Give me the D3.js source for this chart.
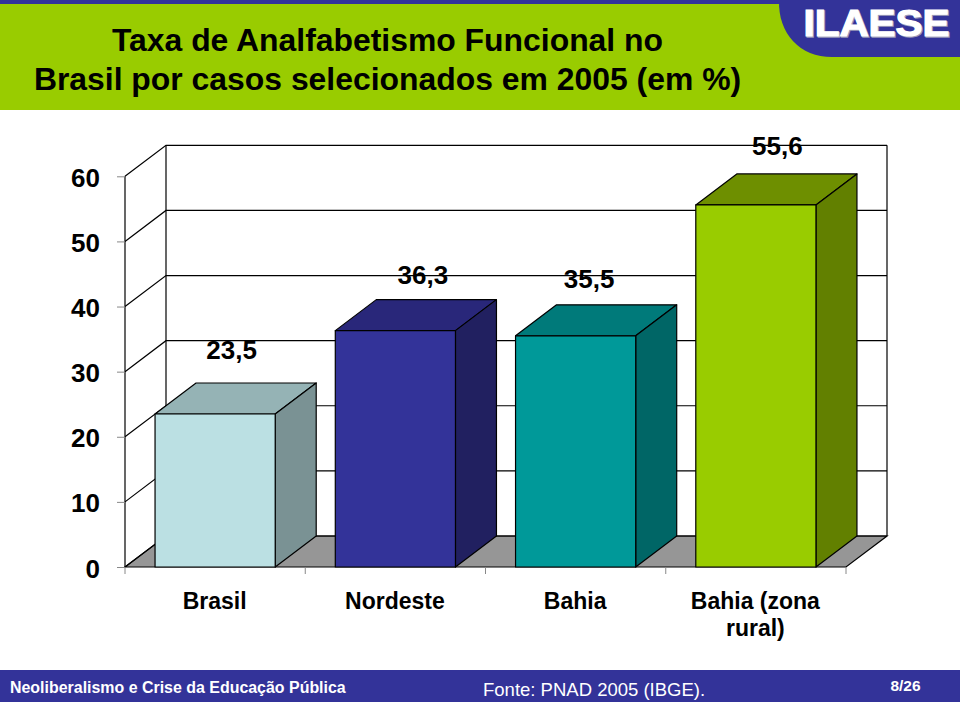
<!DOCTYPE html>
<html><head><meta charset="utf-8">
<style>html,body{margin:0;padding:0;background:#fff}svg{display:block}
text{font-family:"Liberation Sans",Arial,sans-serif}</style>
<script src="https://cdnjs.cloudflare.com/ajax/libs/d3/7.8.5/d3.min.js"></script></head>
<body><svg id="c" width="960" height="702"></svg>
<script>
const titleLines = ["Taxa de Analfabetismo Funcional no","Brasil por casos selecionados em 2005 (em %)"];
const categories = ["Brasil","Nordeste","Bahia","Bahia (zona rural)"];
const values = [23.5,36.3,35.5,55.6];
const yTicks = [0,10,20,30,40,50,60];
const frontColors = ["#bbe0e3","#333399","#009999","#99cc00"];
const topColors = ["#95b3b5","#29277a","#007a7a","#6e8f00"];
const sideColors = ["#7a9294","#212060","#006666","#628000"];
const brand = "ILAESE";
const footerLeft = "Neoliberalismo e Crise da Educação Pública";
const footerSource = "Fonte: PNAD 2005 (IBGE).";
const pageLabel = "8/26";

const svg = d3.select("#c");
const BLUE = "#333399", GREEN = "#99cc00";
const left=125, right=846, bottom=567, dx=41, dy=-31;
const x = d3.scaleBand().domain(categories).range([left,right]).paddingInner(1/3).paddingOuter(1/6);
const y = d3.scaleLinear().domain([0,60]).range([bottom,176.3]);
const comma = d3.formatLocale({decimal:",",thousands:".",grouping:[3],currency:["",""]}).format(".1f");
const poly = pts => pts.map(p=>p.join(",")).join(" ");

// header
svg.append("rect").attr("x",0).attr("y",0).attr("width",960).attr("height",110).attr("fill",GREEN);
svg.append("rect").attr("x",0).attr("y",0).attr("width",960).attr("height",4).attr("fill",BLUE);
svg.append("path").attr("fill",BLUE).attr("d","M779,0 C778,34 800,57 832,57 L960,57 L960,0 Z");
svg.selectAll("text.title").data(titleLines).join("text").attr("class","title")
  .attr("x",387.5).attr("y",(d,i)=>51+i*39).attr("text-anchor","middle")
  .attr("font-weight","bold").attr("font-size",31.9).attr("fill","#000").text(d=>d);
svg.append("text").attr("x",876.5).attr("y",36).attr("text-anchor","middle").attr("font-weight","bold")
  .attr("font-size",37).attr("fill","#9a9ab8").attr("stroke","#9a9ab8").attr("stroke-width",1.4)
  .attr("transform","translate(1,1)").attr("textLength",146).attr("lengthAdjust","spacingAndGlyphs").text(brand);
svg.append("text").attr("x",876.5).attr("y",36).attr("text-anchor","middle").attr("font-weight","bold")
  .attr("font-size",37).attr("fill","#fff").attr("stroke","#fff").attr("stroke-width",1.2)
  .attr("textLength",146).attr("lengthAdjust","spacingAndGlyphs").text(brand);

// walls & floor
const g = svg.append("g");
g.append("polygon").attr("points",poly([[left,bottom],[left+dx,bottom+dy],[right+dx,bottom+dy],[right,bottom]]))
  .attr("fill","#969696").attr("stroke","#000").attr("stroke-width",1.2);
const grid = g.append("g").attr("fill","none").attr("stroke","#000").attr("stroke-width",1.2);
grid.selectAll("polyline").data(yTicks).join("polyline")
  .attr("points",d=>poly([[left,y(d)],[left+dx,y(d)+dy],[right+dx,y(d)+dy]]));
grid.append("line").attr("x1",left).attr("x2",left).attr("y1",y(60)).attr("y2",bottom);
grid.append("line").attr("x1",left+dx).attr("x2",left+dx).attr("y1",y(60)+dy).attr("y2",bottom+dy);
grid.append("line").attr("x1",right+dx).attr("x2",right+dx).attr("y1",y(60)+dy).attr("y2",bottom+dy);

// axes
const yAxis = d3.axisLeft(y).tickValues(yTicks).tickSize(8).tickPadding(17).tickFormat(d3.format("d"));
const gy = svg.append("g").attr("transform",`translate(${left},0)`).call(yAxis);
gy.select(".domain").remove();
gy.selectAll("line").attr("stroke","#888");
gy.selectAll("text").attr("font-size",26).attr("font-weight","bold").attr("fill","#000")
  .attr("dy",null).attr("y",10);

// bars
const bars = svg.append("g").selectAll("g").data(categories).join("g")
  .attr("stroke","#000").attr("stroke-width",1.2).attr("stroke-linejoin","round");
const bw = x.bandwidth();
bars.append("polygon").attr("fill",(d,i)=>topColors[i])
  .attr("points",(d,i)=>{const a=x(d),t=y(values[i]);return poly([[a,t],[a+dx,t+dy],[a+bw+dx,t+dy],[a+bw,t]]);});
bars.append("polygon").attr("fill",(d,i)=>sideColors[i])
  .attr("points",(d,i)=>{const a=x(d)+bw,t=y(values[i]);return poly([[a,t],[a+dx,t+dy],[a+dx,bottom+dy],[a,bottom]]);});
bars.append("rect").attr("fill",(d,i)=>frontColors[i])
  .attr("x",d=>x(d)).attr("width",bw).attr("y",(d,i)=>y(values[i])).attr("height",(d,i)=>bottom-y(values[i]));

// x axis ticks at band boundaries
const step = x.step();
const bounds = d3.range(categories.length+1).map(i=>left+i*step);
const tx = svg.append("g").attr("stroke","#888").attr("stroke-width",1);
tx.selectAll("line").data(bounds).join("line").attr("x1",d=>d).attr("x2",d=>d).attr("y1",bottom).attr("y2",bottom+7);

// category labels
const catLabels = svg.append("g").selectAll("text").data(categories).join("text")
  .attr("text-anchor","middle").attr("font-weight","bold").attr("font-size",23).attr("fill","#000");
catLabels.each(function(d){
  const t=d3.select(this), cx=x(d)+bw/2-0.5, parts=d.length>12?[d.slice(0,11),d.slice(12)]:[d];
  parts.forEach((p,i)=>t.append("tspan").attr("x",cx).attr("y",609+i*27).text(p));
});

// data labels
svg.append("g").selectAll("text").data(values).join("text")
  .attr("text-anchor","middle").attr("font-weight","bold").attr("font-size",26).attr("fill","#000")
  .attr("x",(d,i)=>x(categories[i])+bw/2-0.5+[17,28,14,22][i])
  .attr("y",(d,i)=>y(d)+dy+[-24,-16,-17,-19][i]).text(d=>comma(d));

// footer
svg.append("rect").attr("x",0).attr("y",670).attr("width",960).attr("height",32).attr("fill",BLUE);
svg.append("text").attr("x",10).attr("y",693).attr("font-weight","bold").attr("font-size",15.95).attr("fill","#fff").text(footerLeft);
svg.append("text").attr("x",483).attr("y",696).attr("font-size",18.5).attr("fill","#fff").text(footerSource);
svg.append("text").attr("x",905.5).attr("y",690.5).attr("text-anchor","middle").attr("font-weight","bold").attr("font-size",15.5).attr("fill","#fff").text(pageLabel);
</script></body></html>
